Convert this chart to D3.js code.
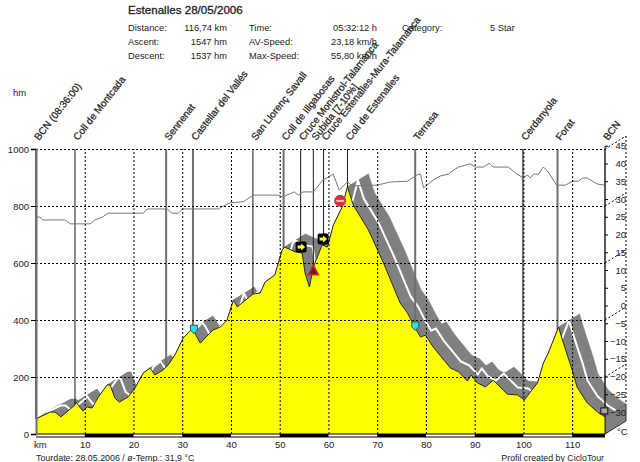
<!DOCTYPE html>
<html>
<head>
<meta charset="utf-8">
<script src="https://cdn.jsdelivr.net/npm/d3@7"></script>
<style>
  html, body { margin: 0; padding: 0; background: #fff; }
  svg { display: block; }
  text { font-family: "Liberation Sans", Arial, sans-serif; font-size: 9.5px; fill: #222; }
</style>
</head>
<body>
<div id="chart"></div>
<script>
// elevation profile
const profileKm = [0, 2.9, 3.9, 5.1, 8, 8.2, 9.6, 10.5, 11.5, 12.8, 14.6, 15.2, 16.2, 17.1, 18.9, 20.3, 22, 23.4, 24.4, 26.1, 27.1, 28.5, 30.2, 32, 32.6, 33.7, 36.3, 37.8, 39.2, 40.5, 41.3, 44.5, 46, 47, 49, 50.5, 51, 53.2, 54.6, 55.2, 56.1, 56.9, 58.7, 59.8, 61, 62.8, 63.9, 65.1, 68.2, 71.3, 74.7, 76.2, 77.8, 78.9, 79.9, 81.5, 85, 86.7, 88.5, 89.3, 90.6, 92.2, 93.8, 96.7, 98.8, 100.2, 101.4, 102.9, 104.1, 105.1, 107.2, 108.2, 110, 111, 113.1, 115.2, 116.74];
const profileHm = [53, 77, 77, 60, 102, 112, 81, 95, 91, 130, 172, 172, 126, 112, 130, 161, 214, 232, 207, 225, 242, 277, 337, 368, 354, 319, 365, 375, 400, 470, 446, 491, 495, 533, 558, 646, 656, 639, 635, 565, 516, 586, 663, 656, 733, 796, 867, 803, 716, 600, 460, 425, 372, 340, 347, 305, 232, 218, 186, 207, 179, 165, 189, 140, 137, 119, 147, 179, 249, 284, 375, 319, 225, 165, 109, 77, 60];

// temperature line
const tempKm = [0, 0.8, 1.4, 6, 7, 11.1, 12.1, 13.6, 14.8, 22, 22.8, 26.9, 27.9, 29.2, 30, 37.4, 38.4, 39.8, 42.5, 44.6, 49.5, 50.7, 53, 53.8, 54.8, 56.9, 58.9, 61, 62.2, 63.9, 64.9, 70, 72.7, 76.2, 78.2, 78.9, 79.5, 81.5, 83, 84.6, 85.4, 86.7, 89.1, 90.1, 91.8, 93, 93.8, 96.9, 98.4, 100, 100.8, 101.4, 102.1, 103.1, 104.1, 105.1, 106.8, 108.6, 110.1, 111.3, 112.1, 113.1, 115.2, 116.7];
const tempC = [24.9, 24.9, 24.1, 24.1, 23, 23, 24.1, 24.9, 26, 26, 27.2, 27.2, 26, 26, 27.2, 27.2, 28, 28.9, 29.2, 31.1, 31.1, 30.6, 32, 31.1, 32, 32, 35.4, 37, 32.5, 34.8, 33.7, 33.9, 34.8, 35, 36.8, 37, 33.1, 35.4, 36.5, 37, 37.9, 39, 39.9, 39, 39, 40.1, 39, 39, 37.3, 35.9, 36.8, 35.9, 37, 37, 39, 37.6, 33.9, 33.9, 35, 35, 35.9, 35.9, 34.2, 33.9];

// waypoints
const placeNames = ["BCN (08:36:00)", "Coll de Montcada", "Sennenat", "Castellar del Vallés", "San Llorenç Savall", "Coll de Illgabosas", "Cruce Monistrol-Talamanca", "Subida [7-10%]", "Cruce Estenalles-Mura-Talamanca", "Coll de Estenalles", "Terrasa", "Cerdanyola", "Forat", "BCN"];
const placeKm = [0, 8, 26.7, 32.2, 44.5, 50.8, 54.3, 56.9, 59, 63.9, 77.8, 99.9, 107, 116.74];
const heavyPlaces = ["BCN (08:36:00)", "Sennenat", "Castellar del Vallés", "Coll de Illgabosas", "Terrasa", "Cerdanyola", "Forat"];

// route icons
const iconKind = ["info", "arrow", "danger", "arrow", "stop", "info", "food"];
const iconKm = [32.4, 54.4, 56.9, 58.9, 62.4, 77.8, 116.6];
const iconHm = [368, 656, 575, 684, 818, 379, 81];

// axes
const kmTicks = [10, 20, 30, 40, 50, 60, 70, 80, 90, 100, 110];
const hmTicks = [0, 200, 400, 600, 800, 1000];
const tempTicks = [45, 40, 35, 30, 25, 20, 15, 10, 5, 0, -5, -10, -15, -20, -25, -30];
const kmBlocks = [[10, 20], [30, 40], [50, 60], [70, 80], [90, 100], [110, 116.74]];

// header
const statLabels = [["Distance:", "Ascent:", "Descent:"], ["Time:", "AV-Speed:", "Max-Speed:"]];
const statValues = [["116,74 km", "1547 hm", "1537 hm"], ["05:32:12 h", "23,18 km/h", "55,80 km/h"]];

const width = 640, height = 462;
const margin = {top: 149, right: 35, bottom: 28, left: 36};
const innerW = width - margin.left - margin.right;
const innerH = height - margin.top - margin.bottom;
const depth = {x: 21, y: -13};

const svg = d3.select('#chart').append('svg')
  .attr('width', width)
  .attr('height', height);

const g = svg.append('g')
  .attr('transform', `translate(${margin.left},${margin.top})`);

const x = d3.scaleLinear().domain([0, 116.74]).range([0, innerW]);
const y = d3.scaleLinear().domain([0, 1000]).range([innerH, 0]);
const yTemp = d3.scaleLinear().domain([30, -30]).range([50, 263]);

const profile = profileKm.map((km, i) => [x(km), y(profileHm[i])]);

// right hand wall
g.append('path')
  .attr('d', d3.line()([[innerW, y(profileHm[profileHm.length - 1])], [innerW + depth.x, y(profileHm[profileHm.length - 1]) + depth.y], [innerW + depth.x, innerH + depth.y], [innerW, innerH]]) + 'Z')
  .attr('fill', '#808080')
  .attr('stroke', '#333');

g.append('line')
  .attr('x1', innerW + depth.x).attr('x2', innerW + depth.x)
  .attr('y1', depth.y).attr('y2', y(profileHm[profileHm.length - 1]) + depth.y)
  .attr('stroke', '#000')
  .attr('stroke-dasharray', '2,2');

g.selectAll('.wall-grid')
  .data(hmTicks.filter(d => d > 0))
  .enter().append('line')
  .attr('class', 'wall-grid')
  .attr('x1', innerW).attr('x2', innerW + depth.x)
  .attr('y1', d => y(d)).attr('y2', d => y(d) + depth.y)
  .attr('stroke', '#000')
  .attr('stroke-dasharray', '2,2');

// road surface behind the profile
const road = g.append('g');
for (let i = 0; i < profile.length - 1; i++) {
  const a = profile[i], b = profile[i + 1];
  road.append('path')
    .attr('d', d3.line()([a, b, [b[0] + depth.x, b[1] + depth.y], [a[0] + depth.x, a[1] + depth.y]]) + 'Z')
    .attr('fill', '#808080')
    .attr('stroke', '#808080')
    .attr('stroke-width', 0.5);
}
road.append('path')
  .attr('d', d3.line()(profile.map(p => [p[0] + depth.x / 2, p[1] + depth.y / 2])))
  .attr('fill', 'none')
  .attr('stroke', '#fff')
  .attr('stroke-width', 2);

// waypoint lines
const hmAt = d3.scaleLinear().domain(profileKm).range(profileHm);
g.selectAll('.place-line')
  .data(placeNames)
  .enter().append('line')
  .attr('class', 'place-line')
  .attr('x1', (d, i) => x(placeKm[i]))
  .attr('x2', (d, i) => x(placeKm[i]))
  .attr('y1', 0)
  .attr('y2', (d, i) => y(hmAt(placeKm[i])))
  .attr('stroke', d => heavyPlaces.includes(d) ? '#6e6e6e' : '#1a1a1a')
  .attr('stroke-width', d => heavyPlaces.includes(d) ? 2 : 1);

// yellow profile
g.append('path')
  .attr('d', d3.area().x(d => d[0]).y0(innerH).y1(d => d[1])(profile))
  .attr('fill', '#ffff00');
g.append('path')
  .attr('d', d3.line()(profile))
  .attr('fill', 'none')
  .attr('stroke', '#262626')
  .attr('stroke-width', 1);

// temperature
g.append('path')
  .attr('d', d3.line()(tempKm.map((km, i) => [x(km), yTemp(tempC[i])])))
  .attr('fill', 'none')
  .attr('stroke', '#777')
  .attr('stroke-width', 1);

// grid
const gridH = g.append('g')
  .call(d3.axisLeft(y).tickValues(hmTicks.filter(d => d > 0)).tickSize(-innerW).tickFormat(''));
const gridV = g.append('g')
  .attr('transform', `translate(0,${innerH})`)
  .call(d3.axisBottom(x).tickValues(kmTicks).tickSize(-innerH).tickFormat(''));
[gridH, gridV].forEach(grid => {
  grid.select('.domain').remove();
  grid.selectAll('line').attr('stroke', '#000').attr('stroke-dasharray', '2,2');
});

// km blocks on the base line
g.selectAll('.km-block')
  .data(kmBlocks)
  .enter().append('rect')
  .attr('class', 'km-block')
  .attr('x', d => x(d[0]))
  .attr('y', innerH)
  .attr('width', d => x(d[1]) - x(d[0]))
  .attr('height', 3)
  .attr('fill', '#000');
g.append('line')
  .attr('x1', 0).attr('x2', innerW)
  .attr('y1', innerH + 3).attr('y2', innerH + 3)
  .attr('stroke', '#000');
g.append('line')
  .attr('x1', 0).attr('x2', innerW)
  .attr('y1', innerH).attr('y2', innerH)
  .attr('stroke', '#000');

// axes
const xAxis = g.append('g')
  .attr('transform', `translate(0,${innerH})`)
  .call(d3.axisBottom(x).tickValues(kmTicks).tickSize(0).tickPadding(7).tickFormat(d3.format('d')));
xAxis.select('.domain').remove();

const yAxis = g.append('g')
  .call(d3.axisLeft(y).tickValues(hmTicks).tickSize(5).tickPadding(2).tickFormat(d3.format('d')));
yAxis.select('.domain').attr('stroke', '#6e6e6e').attr('stroke-width', 2);

const tempAxis = g.append('g')
  .attr('transform', `translate(${innerW},0)`)
  .call(d3.axisRight(yTemp).tickValues(tempTicks).tickSize(3).tickSizeOuter(0).tickFormat(d3.format('d')));
tempAxis.select('.domain').attr('stroke', '#222').attr('d', `M0,${-3}V${innerH}`);
tempAxis.selectAll('text').attr('x', 21).attr('text-anchor', 'end');
[xAxis, yAxis, tempAxis].forEach(axis => {
  axis.attr('font-family', null).attr('font-size', null);
});

// icons
const icons = g.selectAll('.icon')
  .data(iconKind)
  .enter().append('g')
  .attr('class', 'icon')
  .attr('transform', (d, i) => `translate(${x(iconKm[i])},${y(iconHm[i])})`);

icons.filter(d => d === 'info').append('path')
  .attr('d', 'M-3.5,-4H3.5V1L0,4.5L-3.5,1Z')
  .attr('fill', '#2fe0e0')
  .attr('stroke', '#2a5a60');
icons.filter(d => d === 'arrow').append('rect')
  .attr('x', -5.5).attr('y', -5.5).attr('width', 11).attr('height', 11).attr('rx', 2)
  .attr('fill', '#000');
icons.filter(d => d === 'arrow').append('path')
  .attr('d', 'M-3.5,-1.5H0V-3.5L4,0L0,3.5V1.5H-3.5Z')
  .attr('fill', '#ffff33');
icons.filter(d => d === 'danger').append('path')
  .attr('d', 'M0,-5L5,4.5H-5Z')
  .attr('fill', '#4a2a2a')
  .attr('stroke', '#d8202c')
  .attr('stroke-width', 1.5);
icons.filter(d => d === 'stop').append('circle')
  .attr('r', 6)
  .attr('fill', '#d8303a');
icons.filter(d => d === 'stop').append('rect')
  .attr('x', -4).attr('y', -1).attr('width', 8).attr('height', 2)
  .attr('fill', '#f3c0c0');
icons.filter(d => d === 'food').append('rect')
  .attr('x', -3.5).attr('y', -3).attr('width', 7).attr('height', 6)
  .attr('fill', '#a8a8a8')
  .attr('stroke', '#111');

// waypoint labels
g.selectAll('.place-label')
  .data(placeNames)
  .enter().append('text')
  .attr('class', 'place-label')
  .attr('transform', (d, i) => `translate(${x(placeKm[i]) + 3},-8) rotate(-52)`)
  .style('font-size', '10px')
  .style('stroke', '#222')
  .style('stroke-width', 0.25)
  .text(d => d);

// header
svg.append('text')
  .attr('x', 128).attr('y', 14)
  .style('font-size', '11.6px')
  .style('stroke', '#222')
  .style('stroke-width', 0.3)
  .text('Estenalles 28/05/2006');

const statX = [128, 249], statEnd = [227, 377], statY = [31, 45, 59];
statLabels.forEach((col, c) => {
  col.forEach((label, r) => {
    svg.append('text').attr('x', statX[c]).attr('y', statY[r]).style('font-size', '9.3px').text(label);
    svg.append('text').attr('x', statEnd[c]).attr('y', statY[r]).attr('text-anchor', 'end').style('font-size', '9.3px').text(statValues[c][r]);
  });
});
svg.append('text').attr('x', 402).attr('y', 31).style('font-size', '9.3px').text('Category:');
svg.append('text').attr('x', 490).attr('y', 31).style('font-size', '9.3px').text('5 Star');

svg.append('text').attr('x', 13).attr('y', 96).text('hm');
svg.append('text').attr('x', 34).attr('y', 448).text('km');
svg.append('text').attr('x', 617).attr('y', 435).text('°C');
svg.append('text').attr('x', 36).attr('y', 461).style('font-size', '8.9px').text('Tourdate: 28.05.2006  /  ø-Temp.: 31,9 °C');
svg.append('text').attr('x', 604).attr('y', 461).attr('text-anchor', 'end').style('font-size', '8.8px').text('Profil created by CicloTour');
</script>
</body>
</html>
